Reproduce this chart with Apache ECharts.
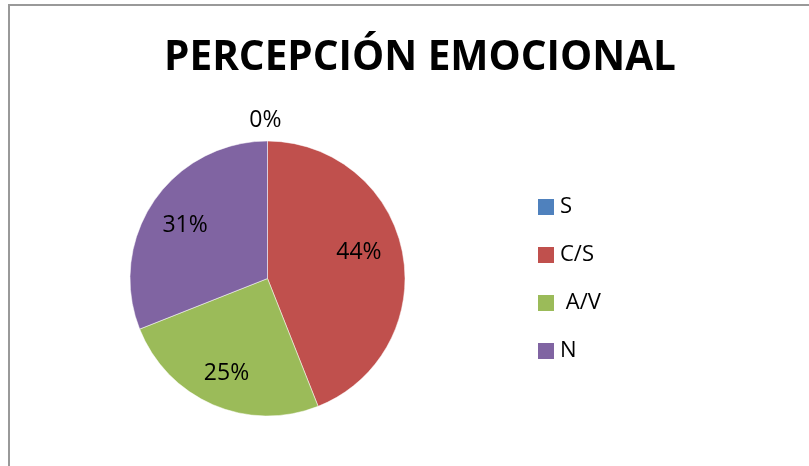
<!DOCTYPE html>
<html>
<head>
    <meta charset="utf-8">
    <title>Percepción emocional</title>
    <script src="https://cdn.jsdelivr.net/npm/echarts@6/dist/echarts.min.js"></script>
    <style>
        html, body {
            margin: 0;
            padding: 0;
            background: #ffffff;
        }

        #chart {
            width: 809px;
            height: 466px;
        }
    </style>
</head>
<body>
<div id="chart"></div>
<script>
    var categories = ['S', 'C/S', ' A/V', 'N'];
    var values = [0, 44, 25, 31];
    var colors = ['#4f81bd', '#c0504d', '#9bbb59', '#8064a2'];

    var chart = echarts.init(document.getElementById('chart'), null, {renderer: 'canvas'});

    // pequeños ajustes de etiqueta, como en el original de Excel
    var labelOffsets = [[19, -17], [-10, -7], [0, 0], [3, 5]];

    var pieData = [];
    var labelData = [];
    for (var i = 0; i < categories.length; i++) {
        pieData.push({name: categories[i], value: values[i], itemStyle: {color: colors[i]}});
        var item = {name: categories[i], value: values[i], label: {offset: labelOffsets[i]}};
        // la porción vacía lleva su etiqueta por fuera, arriba
        if (values[i] === 0) {
            item.label.position = 'outside';
        }
        labelData.push(item);
    }

    var option = {
        animation: false,
        title: {
            text: 'PERCEPCIÓN EMOCIONAL',
            left: 415,
            top: 33,
            textAlign: 'center',
            textStyle: {
                fontFamily: 'Open Sans',
                fontWeight: 'bold',
                fontSize: 40.5,
                color: '#000000'
            }
        },
        legend: {
            orient: 'vertical',
            left: 531,
            top: 191,
            itemWidth: 18,
            itemHeight: 18,
            itemGap: 26,
            icon: 'rect',
            data: categories,
            textStyle: {
                fontFamily: 'Open Sans',
                fontSize: 22,
                color: '#000000',
                padding: [0, 0, 0, 0]
            }
        },
        graphic: [{
            type: 'polyline',
            silent: true,
            shape: {points: [[9, 466], [9, 5], [809, 5]]},
            style: {stroke: '#999999', lineWidth: 2, fill: null}
        }],
        series: [
            {
                type: 'pie',
                center: [267.5, 278.5],
                radius: [0, 137.5],
                startAngle: 90,
                clockwise: true,
                avoidLabelOverlap: false,
                label: {show: false},
                labelLine: {show: false},
                itemStyle: {borderColor: '#ffffff', borderWidth: 0.5},
                data: pieData
            },
            {
                type: 'pie',
                silent: true,
                center: [267.5, 278.5],
                radius: [63, 137.5],
                startAngle: 90,
                clockwise: true,
                avoidLabelOverlap: false,
                legendHoverLink: false,
                itemStyle: {color: 'rgba(0,0,0,0)'},
                label: {
                    show: true,
                    position: 'inside',
                    formatter: '{d}%',
                    fontFamily: 'Open Sans',
                    fontSize: 23,
                    color: '#000000'
                },
                labelLine: {show: false, length: 4, length2: 0},
                data: labelData
            }
        ]
    };

    chart.setOption(option);
</script>
</body>
</html>
